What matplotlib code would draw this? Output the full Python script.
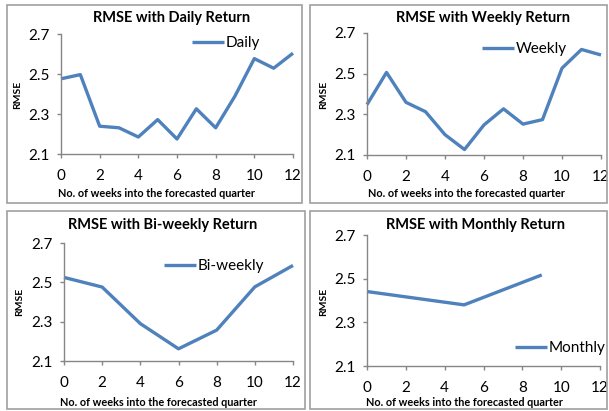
import matplotlib.pyplot as plt
from matplotlib.patches import Rectangle

# values
daily_x = [0, 1, 2, 3, 4, 5, 6, 7, 8, 9, 10, 11, 12]
daily_y = [2.476, 2.497, 2.239, 2.231, 2.185, 2.272, 2.175, 2.326, 2.231, 2.39, 2.577, 2.529, 2.604]

weekly_x = [0, 1, 2, 3, 4, 5, 6, 7, 8, 9, 10, 11, 12]
weekly_y = [2.348, 2.506, 2.359, 2.313, 2.2, 2.127, 2.248, 2.327, 2.252, 2.274, 2.527, 2.619, 2.592]

biweekly_x = [0, 2, 4, 6, 8, 10, 12]
biweekly_y = [2.525, 2.476, 2.29, 2.162, 2.257, 2.477, 2.586]

monthly_x = [0, 5, 9]
monthly_y = [2.441, 2.38, 2.517]

x_ticks = [0, 2, 4, 6, 8, 10, 12]
y_ticks = [2.1, 2.3, 2.5, 2.7]

W, H = 609, 411
LINE = '#4F81BD'
GREY = '#868686'
FONT = 'Lato'

fig = plt.figure(figsize=(W / 100, H / 100), dpi=100)


def box(x0, y0, x1, y1):
    # pixel box (top-left origin) -> figure fraction rect
    return [x0 / W, 1 - y1 / H, (x1 - x0) / W, (y1 - y0) / H]


def fx(x):
    return x / W


def fy(y):
    return 1 - y / H


panels = [
    # data, label, title, plot area, frame, title pos, xlabel pos, ylabel pos, legend pos (axes frac)
    (daily_x, daily_y, 'Daily', 'RMSE with Daily Return',
     (61, 34, 293, 154), (7, 5, 302, 203), (172, 18), (156, 193), (18, 95), (0.565, 0.925)),
    (weekly_x, weekly_y, 'Weekly', 'RMSE with Weekly Return',
     (367, 33, 601, 155), (310, 5, 607, 203), (483, 18), (466, 193), (324, 95), (0.491, 0.869)),
    (biweekly_x, biweekly_y, 'Bi-weekly', 'RMSE with Bi-weekly Return',
     (64, 243, 293, 361), (7, 211, 305, 409), (163, 225), (158, 402), (20, 302), (0.437, 0.805)),
    (monthly_x, monthly_y, 'Monthly', 'RMSE with Monthly Return',
     (367, 235, 600, 366), (310, 211, 607, 409), (475, 225), (464, 402), (324, 302), (0.635, 0.137)),
]

for xs, ys, lab, title, area, frame, tpos, xlpos, ylpos, legpos in panels:
    fig.patches.append(Rectangle((fx(frame[0]), fy(frame[3])),
                                 (frame[2] - frame[0]) / W, (frame[3] - frame[1]) / H,
                                 transform=fig.transFigure, fill=False,
                                 edgecolor='#A0A0A0', linewidth=1.2))
    ax = fig.add_axes(box(*area))
    ax.plot(xs, ys, color=LINE, linewidth=2.4, label=lab, solid_capstyle='butt')
    ax.set_xlim(0, 12)
    ax.set_ylim(2.1, 2.7)
    ax.set_xticks(x_ticks)
    ax.set_yticks(y_ticks)
    ax.set_yticklabels([f'{v:.1f}' for v in y_ticks])
    for s in ['top', 'right']:
        ax.spines[s].set_visible(False)
    for s in ['left', 'bottom']:
        ax.spines[s].set_color(GREY)
        ax.spines[s].set_linewidth(1.0)
    ax.tick_params(axis='both', colors=GREY, labelcolor='black', length=3, width=1.0,
                   labelsize=11)
    ax.tick_params(axis='x', pad=8)
    ax.tick_params(axis='y', pad=5)
    for t in ax.get_xticklabels() + ax.get_yticklabels():
        t.set_family(FONT)
    for ln in ax.lines:
        ln.set_clip_on(False)
    ax.legend(loc='center left', bbox_to_anchor=legpos, frameon=False, handlelength=2.1,
              handletextpad=0.1, borderaxespad=0, borderpad=0,
              prop={'family': FONT, 'size': 11})

    fig.text(fx(tpos[0]), fy(tpos[1]), title, ha='center', va='center',
             fontsize=10.5, fontweight='bold', family=FONT)
    fig.text(fx(xlpos[0]), fy(xlpos[1]), 'No. of weeks into the forecasted quarter',
             ha='center', va='center', fontsize=7.8, fontweight='bold', family=FONT)
    fig.text(fx(ylpos[0]), fy(ylpos[1]), 'RMSE', ha='center', va='center', rotation=90,
             fontsize=7.5, fontweight='bold', family=FONT)

fig.savefig('out.png', dpi=100)
